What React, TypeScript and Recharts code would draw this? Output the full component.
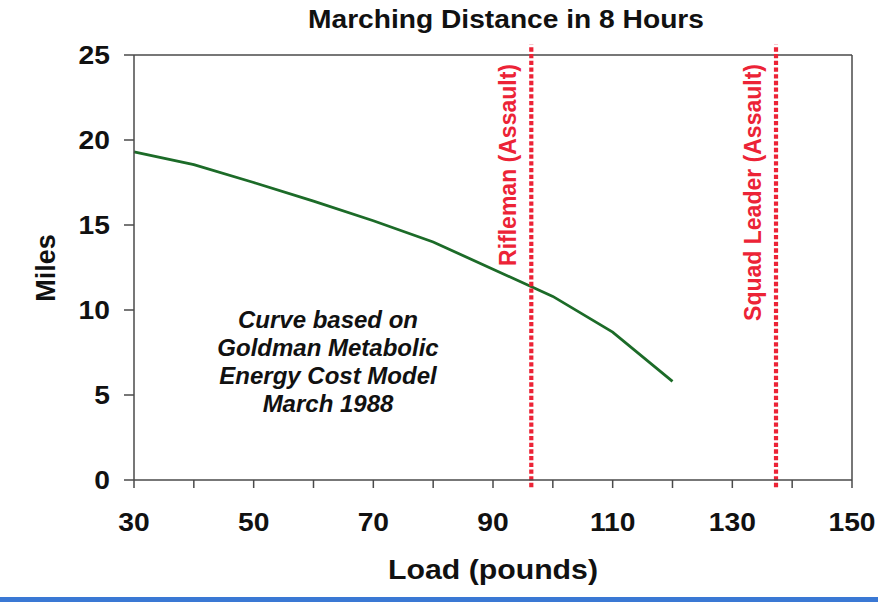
import React from 'react';
import { LineChart, Line, XAxis, YAxis, ReferenceLine } from 'recharts';

const loads = [30, 40, 50, 60, 70, 80, 90, 100, 110, 120];
const miles = [19.3, 18.55, 17.5, 16.4, 15.25, 14.0, 12.4, 10.8, 8.7, 5.8];
const xTicks = [30, 40, 50, 60, 70, 80, 90, 100, 110, 120, 130, 150, 140].sort((a, b) => a - b);
const xLabelTicks = [30, 50, 70, 90, 110, 130, 150];
const yTicks = [0, 5, 10, 15, 20, 25];
const limitLoads = [96.4, 137.3];
const limitLabels = ['Rifleman (Assault)', 'Squad Leader (Assault)'];
const annotationLines = ['Curve based on', 'Goldman Metabolic', 'Energy Cost Model', 'March 1988'];
const titleText = 'Marching Distance in 8 Hours';
const xTitle = 'Load (pounds)';
const yTitle = 'Miles';

const chartData = loads.map((l, i) => ({ load: l, miles: miles[i] }));

const FONT = '"Liberation Sans", Arial, Helvetica, sans-serif';
const AXIS = '#4a4a4a';
const RED = '#ec2336';
const GREEN = '#1c6b28';

const XTick = (props: any) => {
  const { x, payload } = props;
  if (!xLabelTicks.includes(payload.value)) return <g />;
  return (
    <text
      transform={`translate(${x},531) scale(1.13,1)`}
      textAnchor="middle"
      fontFamily={FONT}
      fontWeight="bold"
      fontSize={25}
      fill="#111"
    >
      {payload.value}
    </text>
  );
};

const YTick = (props: any) => {
  const { y, payload } = props;
  return (
    <text
      transform={`translate(110,${y}) scale(1.13,1)`}
      textAnchor="end"
      dy={9}
      fontFamily={FONT}
      fontWeight="bold"
      fontSize={25}
      fill="#111"
    >
      {payload.value}
    </text>
  );
};

const makeLimitLabel = (text: string) => (props: any) => {
  const vb = props.viewBox || {};
  const x = vb.x - 15;
  const y = 64;
  return (
    <text
      transform={`translate(${x},${y}) rotate(-90)`}
      textAnchor="end"
      fontFamily={FONT}
      fontWeight="bold"
      fontSize={23}
      fill={RED}
    >
      {text}
    </text>
  );
};

export default function App() {
  return (
    <div style={{ position: 'absolute', left: 0, top: 0, width: 878, height: 602, background: '#fff' }}>
      <LineChart
        width={878}
        height={602}
        data={chartData}
        margin={{ top: 55, right: 26, bottom: 0, left: 0 }}
      >
        <XAxis
          dataKey="load"
          type="number"
          domain={[30, 150]}
          ticks={xTicks}
          interval={0}
          tickSize={8}
          height={122}
          axisLine={{ stroke: AXIS, strokeWidth: 1.5 }}
          tickLine={{ stroke: AXIS, strokeWidth: 1.5 }}
          tick={<XTick />}
        />
        <YAxis
          type="number"
          domain={[0, 25]}
          ticks={yTicks}
          interval={0}
          width={134}
          tickSize={10}
          axisLine={{ stroke: AXIS, strokeWidth: 1.5 }}
          tickLine={{ stroke: AXIS, strokeWidth: 1.5 }}
          tick={<YTick />}
        />
        <ReferenceLine y={25} stroke={AXIS} strokeWidth={1.5} />
        <ReferenceLine x={150} stroke={AXIS} strokeWidth={1.5} />
        <Line
          dataKey="miles"
          type="linear"
          stroke={GREEN}
          strokeWidth={2.8}
          dot={false}
          isAnimationActive={false}
        />
        {limitLoads.map((v, i) => (
          <ReferenceLine
            key={'seg' + i}
            segment={[{ x: v, y: -0.42 }, { x: v, y: 25.6 }]}
            ifOverflow="visible"
            stroke={RED}
            strokeWidth={4.2}
            strokeDasharray="4.3 2.4"
          />
        ))}
        {limitLoads.map((v, i) => (
          <ReferenceLine
            key={'lab' + i}
            x={v}
            stroke="none"
            label={makeLimitLabel(limitLabels[i])}
          />
        ))}
        <text
          x={506}
          y={28}
          textAnchor="middle"
          fontFamily={FONT}
          fontWeight="bold"
          fontSize={25}
          textLength={396}
          lengthAdjust="spacingAndGlyphs"
          fill="#111"
        >
          {titleText}
        </text>
        <text
          x={493}
          y={579}
          textAnchor="middle"
          fontFamily={FONT}
          fontWeight="bold"
          fontSize={27}
          textLength={210}
          lengthAdjust="spacingAndGlyphs"
          fill="#111"
        >
          {xTitle}
        </text>
        <text
          transform="translate(55,268) rotate(-90)"
          textAnchor="middle"
          fontFamily={FONT}
          fontWeight="bold"
          fontSize={27}
          fill="#111"
        >
          {yTitle}
        </text>
        {annotationLines.map((t, i) => (
          <text
            key={'ann' + i}
            x={328}
            y={328 + i * 28}
            textAnchor="middle"
            fontFamily={FONT}
            fontWeight="bold"
            fontStyle="italic"
            fontSize={24}
            fill="#111"
          >
            {t}
          </text>
        ))}
      </LineChart>
      <div style={{ position: 'absolute', left: 0, top: 597, width: 878, height: 5, background: '#3a78d4' }} />
    </div>
  );
}
